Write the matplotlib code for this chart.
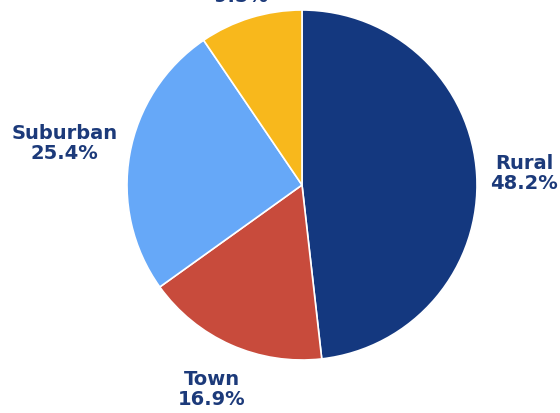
import numpy as np
import matplotlib
matplotlib.use("Agg")
import matplotlib.pyplot as plt

categories = ["Rural", "Town", "Suburban", "City"]
values = [48.2, 16.9, 25.4, 9.5]
colors = ["#14387F", "#C84B3C", "#66A8F8", "#F8B81C"]
label_dist = [1.27, 1.27, 1.38, 1.19]

fig = plt.figure(figsize=(5.6, 4.14), dpi=100)
ax = fig.add_axes([0, 0, 1, 1])

wedges, _ = ax.pie(values, colors=colors, startangle=90, counterclock=False,
                   radius=1.0, wedgeprops=dict(edgecolor="white", linewidth=1.2))

ax.set_xlim(-302 / 175, (560 - 302) / 175)
ax.set_ylim(-(414 - 186) / 175, 186 / 175)
ax.set_aspect("equal", adjustable="datalim")
ax.axis("off")

for w, cat, val, d in zip(wedges, categories, values, label_dist):
    ang = np.deg2rad((w.theta1 + w.theta2) / 2)
    x, y = d * np.cos(ang), d * np.sin(ang)
    ax.text(x, y, f"{cat}\n{val:.1f}%", ha="center", va="center",
            fontsize=14, fontweight="heavy", color="#1C3A7A", linespacing=1.05)

fig.savefig("out.png", dpi=100)
